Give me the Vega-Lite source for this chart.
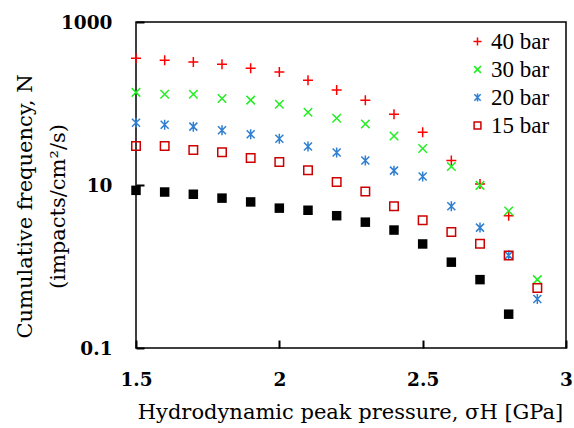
{
  "$schema": "https://vega.github.io/schema/vega-lite/v6.json",
  "autosize": "none",
  "width": 430,
  "height": 326,
  "padding": {"left": 136, "top": 22, "right": 8, "bottom": 80},
  "background": "white",
  "config": {
    "view": {"stroke": "black", "strokeWidth": 1.5},
    "axis": {"grid": false, "domain": false}
  },
  "data": {
    "values": [
      {"p": 1.5, "n": 359, "s": "40 bar"}, {"p": 1.6, "n": 339, "s": "40 bar"}, {"p": 1.7, "n": 324, "s": "40 bar"},
      {"p": 1.8, "n": 303, "s": "40 bar"}, {"p": 1.9, "n": 271, "s": "40 bar"}, {"p": 2.0, "n": 244, "s": "40 bar"},
      {"p": 2.1, "n": 193, "s": "40 bar"}, {"p": 2.2, "n": 146, "s": "40 bar"}, {"p": 2.3, "n": 110, "s": "40 bar"},
      {"p": 2.4, "n": 74, "s": "40 bar"}, {"p": 2.5, "n": 44.5, "s": "40 bar"}, {"p": 2.6, "n": 20, "s": "40 bar"},
      {"p": 2.7, "n": 10.3, "s": "40 bar"}, {"p": 2.8, "n": 4.2, "s": "40 bar"},
      {"p": 1.5, "n": 137, "s": "30 bar"}, {"p": 1.6, "n": 130, "s": "30 bar"}, {"p": 1.7, "n": 130, "s": "30 bar"},
      {"p": 1.8, "n": 115, "s": "30 bar"}, {"p": 1.9, "n": 110, "s": "30 bar"}, {"p": 2.0, "n": 98, "s": "30 bar"},
      {"p": 2.1, "n": 78, "s": "30 bar"}, {"p": 2.2, "n": 66, "s": "30 bar"}, {"p": 2.3, "n": 56, "s": "30 bar"},
      {"p": 2.4, "n": 40, "s": "30 bar"}, {"p": 2.5, "n": 28, "s": "30 bar"}, {"p": 2.6, "n": 16.9, "s": "30 bar"},
      {"p": 2.7, "n": 9.9, "s": "30 bar"}, {"p": 2.8, "n": 4.8, "s": "30 bar"}, {"p": 2.9, "n": 0.69, "s": "30 bar"},
      {"p": 1.5, "n": 58, "s": "20 bar"}, {"p": 1.6, "n": 55, "s": "20 bar"}, {"p": 1.7, "n": 52, "s": "20 bar"},
      {"p": 1.8, "n": 47, "s": "20 bar"}, {"p": 1.9, "n": 42, "s": "20 bar"}, {"p": 2.0, "n": 37, "s": "20 bar"},
      {"p": 2.1, "n": 29.6, "s": "20 bar"}, {"p": 2.2, "n": 25, "s": "20 bar"}, {"p": 2.3, "n": 20, "s": "20 bar"},
      {"p": 2.4, "n": 15, "s": "20 bar"}, {"p": 2.5, "n": 12.7, "s": "20 bar"}, {"p": 2.6, "n": 5.5, "s": "20 bar"},
      {"p": 2.7, "n": 3.0, "s": "20 bar"}, {"p": 2.8, "n": 1.37, "s": "20 bar"}, {"p": 2.9, "n": 0.40, "s": "20 bar"},
      {"p": 1.5, "n": 30, "s": "15 bar"}, {"p": 1.6, "n": 30, "s": "15 bar"}, {"p": 1.7, "n": 26.8, "s": "15 bar"},
      {"p": 1.8, "n": 25.3, "s": "15 bar"}, {"p": 1.9, "n": 21.4, "s": "15 bar"}, {"p": 2.0, "n": 19.1, "s": "15 bar"},
      {"p": 2.1, "n": 15.2, "s": "15 bar"}, {"p": 2.2, "n": 10.9, "s": "15 bar"}, {"p": 2.3, "n": 8.3, "s": "15 bar"},
      {"p": 2.4, "n": 5.5, "s": "15 bar"}, {"p": 2.5, "n": 3.7, "s": "15 bar"}, {"p": 2.6, "n": 2.65, "s": "15 bar"},
      {"p": 2.7, "n": 1.9, "s": "15 bar"}, {"p": 2.8, "n": 1.36, "s": "15 bar"}, {"p": 2.9, "n": 0.545, "s": "15 bar"},
      {"p": 1.5, "n": 8.6, "s": "black"}, {"p": 1.6, "n": 8.2, "s": "black"}, {"p": 1.7, "n": 7.7, "s": "black"},
      {"p": 1.8, "n": 6.9, "s": "black"}, {"p": 1.9, "n": 6.2, "s": "black"}, {"p": 2.0, "n": 5.2, "s": "black"},
      {"p": 2.1, "n": 4.9, "s": "black"}, {"p": 2.2, "n": 4.2, "s": "black"}, {"p": 2.3, "n": 3.5, "s": "black"},
      {"p": 2.4, "n": 2.8, "s": "black"}, {"p": 2.5, "n": 1.89, "s": "black"}, {"p": 2.6, "n": 1.13, "s": "black"},
      {"p": 2.7, "n": 0.69, "s": "black"}, {"p": 2.8, "n": 0.26, "s": "black"}
    ]
  },
  "encoding": {
    "x": {
      "field": "p", "type": "quantitative",
      "scale": {"domain": [1.5, 3], "nice": false, "zero": false},
      "axis": {
        "values": [1.5, 2, 2.5, 3], "format": "~g",
        "ticks": true, "tickSize": -8, "tickColor": "#000000", "tickWidth": 2, "tickOpacity": 1,
        "labelPadding": 30, "labelFont": "DejaVu Serif", "labelFontWeight": "bold",
        "labelFontSize": 18.5, "labelColor": "black", "labelFlush": false,
        "title": "Hydrodynamic peak pressure, σH [GPa]",
        "titleFont": "DejaVu Serif", "titleFontWeight": "normal", "titleFontSize": 21,
        "titleColor": "black", "titleX": 214, "titleY": 70, "titleBaseline": "alphabetic", "titleAlign": "center",
        "zindex": 2
      }
    },
    "y": {
      "field": "n", "type": "quantitative",
      "scale": {"type": "log", "domain": [0.1, 1000], "nice": false},
      "axis": {
        "values": [0.1, 10, 1000], "format": "~g",
        "ticks": true, "tickSize": -8, "tickColor": "#000000", "tickWidth": 2, "tickOpacity": 1,
        "labelPadding": 32, "labelFont": "DejaVu Serif", "labelFontWeight": "bold",
        "labelFontSize": 18.5, "labelColor": "black", "labelFlush": false,
        "title": ["Cumulative  frequency, N", "(impacts/cm²/s)"],
        "titleFont": "DejaVu Serif", "titleFontWeight": "normal", "titleFontSize": 21,
        "titleColor": "black", "titleLineHeight": 33, "titleAngle": -90,
        "titleX": -105, "titleY": 184, "titleBaseline": "alphabetic", "titleAlign": "center",
        "zindex": 2
      }
    }
  },
  "layer": [
    {
      "transform": [{"filter": "datum.s === 'black'"}],
      "mark": {"type": "point", "shape": "square", "filled": true, "color": "black", "size": 90, "opacity": 1},
      "encoding": {}
    },
    {
      "transform": [{"filter": "datum.s !== 'black'"}],
      "mark": {"type": "point", "filled": false, "strokeWidth": 1.5, "size": 100, "opacity": 1},
      "encoding": {
        "shape": {
          "field": "s", "type": "nominal",
          "scale": {
            "domain": ["40 bar", "30 bar", "20 bar", "15 bar"],
            "range": ["M-1,0L1,0M0,-1L0,1", "M-0.85,-0.85L0.85,0.85M-0.85,0.85L0.85,-0.85", "M-0.8,-0.8L0.8,0.8M-0.8,0.8L0.8,-0.8M0,-1L0,1", "M-0.85,-0.85L0.85,-0.85L0.85,0.85L-0.85,0.85Z"]
          },
          "legend": null
        },
        "color": {
          "field": "s", "type": "nominal",
          "scale": {
            "domain": ["40 bar", "30 bar", "20 bar", "15 bar"],
            "range": ["#FF0000", "#22EE22", "#2F7FD0", "#CC0000"]
          },
          "legend": {
            "title": null, "orient": "none", "legendX": 330, "legendY": 8,
            "padding": 0, "rowPadding": 4, "labelOffset": 2,
            "symbolSize": 64, "symbolStrokeWidth": 1.5,
            "labelFont": "Liberation Serif", "labelFontSize": 23, "labelColor": "black",
            "symbolType": "circle"
          }
        }
      }
    }
  ]
}
